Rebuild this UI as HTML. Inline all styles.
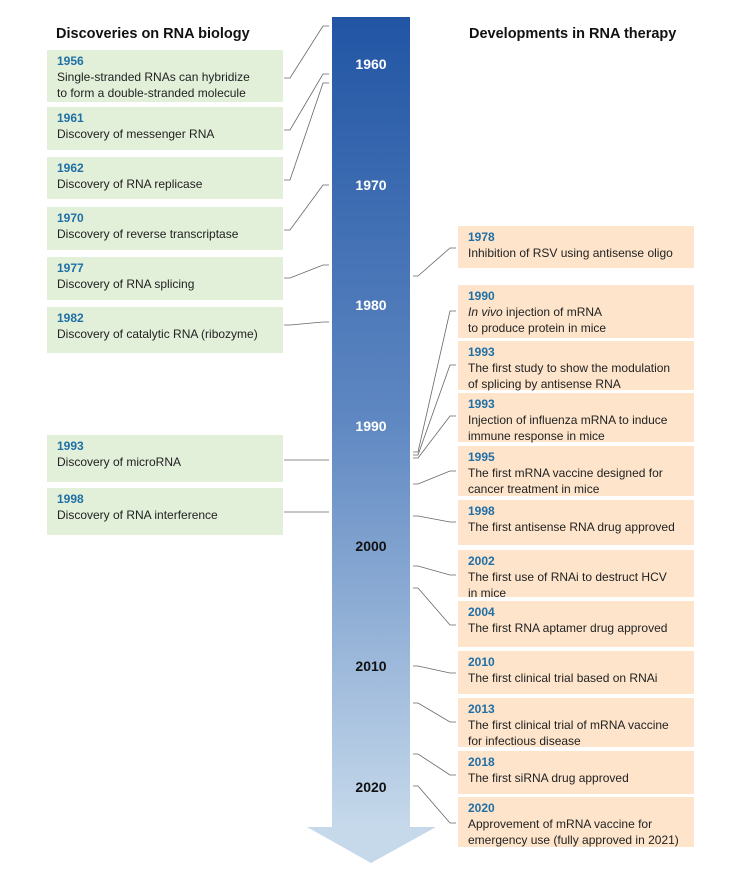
<!DOCTYPE html>
<html><head><meta charset="utf-8"><style>
body{margin:0;width:747px;height:873px;background:#fff;position:relative;overflow:hidden;font-family:"Liberation Sans",sans-serif;}
.t{position:absolute;font-weight:bold;font-size:14.5px;color:#111;}
.box{position:absolute;box-sizing:border-box;padding:3px 0 0 10px;font-size:12px;line-height:16px;color:#222;}
.l{left:47px;width:236px;background:#e2efd9;}
.r{left:458px;width:236px;background:#fde4cb;}
.box b{color:#1f6fa6;display:block;}
.yl{position:absolute;left:332px;width:78px;text-align:center;font-weight:bold;font-size:14px;}
svg{position:absolute;left:0;top:0;}
</style></head><body>
<svg width="747" height="873">
<defs><linearGradient id="g" x1="0" y1="0" x2="0" y2="1"><stop offset="0" stop-color="#2155a4"/><stop offset="0.5" stop-color="#5f88c2"/><stop offset="1" stop-color="#c6d9eb"/></linearGradient></defs>
<rect x="332" y="17" width="78" height="810" fill="url(#g)"/>
<polygon points="307,827 436,827 371,863" fill="#c6d9eb"/>
<g id="lines" stroke="#666" stroke-width="0.8" fill="none"></g>
</svg>
<div class="t" style="left:56px;top:26px">Discoveries on RNA biology</div>
<div class="t" style="left:469px;top:26px">Developments in RNA therapy</div>
<div class="yl" style="top:56px;color:#fff">1960</div>
<div class="yl" style="top:177px;color:#fff">1970</div>
<div class="yl" style="top:297px;color:#fff">1980</div>
<div class="yl" style="top:418px;color:#fff">1990</div>
<div class="yl" style="top:538px;color:#111">2000</div>
<div class="yl" style="top:658px;color:#111">2010</div>
<div class="yl" style="top:779px;color:#111">2020</div>

<div class="box l" style="top:50px;height:52px"><b>1956</b>Single-stranded RNAs can hybridize<br>to form a double-stranded molecule</div>
<div class="box l" style="top:107px;height:43px"><b>1961</b>Discovery of messenger RNA</div>
<div class="box l" style="top:157px;height:42px"><b>1962</b>Discovery of RNA replicase</div>
<div class="box l" style="top:207px;height:43px"><b>1970</b>Discovery of reverse transcriptase</div>
<div class="box l" style="top:257px;height:43px"><b>1977</b>Discovery of RNA splicing</div>
<div class="box l" style="top:307px;height:46px"><b>1982</b>Discovery of catalytic RNA (ribozyme)</div>
<div class="box l" style="top:435px;height:47px"><b>1993</b>Discovery of microRNA</div>
<div class="box l" style="top:488px;height:47px"><b>1998</b>Discovery of RNA interference</div>

<div class="box r" style="top:226px;height:42px"><b>1978</b>Inhibition of RSV using antisense oligo</div>
<div class="box r" style="top:285px;height:53px"><b>1990</b><i>In vivo</i> injection of mRNA<br>to produce protein in mice</div>
<div class="box r" style="top:341px;height:49px"><b>1993</b>The first study to show the modulation<br>of splicing by antisense RNA</div>
<div class="box r" style="top:393px;height:49px"><b>1993</b>Injection of influenza mRNA to induce<br>immune response in mice</div>
<div class="box r" style="top:446px;height:50px"><b>1995</b>The first mRNA vaccine designed for<br>cancer treatment in mice</div>
<div class="box r" style="top:500px;height:45px"><b>1998</b>The first antisense RNA drug approved</div>
<div class="box r" style="top:550px;height:47px"><b>2002</b>The first use of RNAi to destruct HCV<br>in mice</div>
<div class="box r" style="top:601px;height:46px"><b>2004</b>The first RNA aptamer drug approved</div>
<div class="box r" style="top:651px;height:43px"><b>2010</b>The first clinical trial based on RNAi</div>
<div class="box r" style="top:698px;height:49px"><b>2013</b>The first clinical trial of mRNA vaccine<br>for infectious disease</div>
<div class="box r" style="top:751px;height:43px"><b>2018</b>The first siRNA drug approved</div>
<div class="box r" style="top:797px;height:50px"><b>2020</b>Approvement of mRNA vaccine for<br>emergency use (fully approved in 2021)</div>
<script>
// connectors: [bar y, box y]
const leftLinks=[[26,78],[74,130],[83,180],[185,230],[265,278],[322,325],[460,460],[512,512]];
const rightLinks=[[276,248],[452,311],[455,365],[458,416],[484,471],[516,522],[566,575],[588,625],[666,673],[703,722],[754,775],[786,823]];
const g=document.getElementById('lines');
const NS='http://www.w3.org/2000/svg';
leftLinks.forEach(([b,y])=>{
 const p=document.createElementNS(NS,'polyline');
 
 
 p.setAttribute('points',`284,${y} 290,${y} 323,${b} 329,${b}`);
 g.appendChild(p);
});
rightLinks.forEach(([b,y])=>{
 const p=document.createElementNS(NS,'polyline');
 
 
 p.setAttribute('points',`413,${b} 418,${b} 450,${y} 456,${y}`);
 g.appendChild(p);
});
</script>
</body></html>
